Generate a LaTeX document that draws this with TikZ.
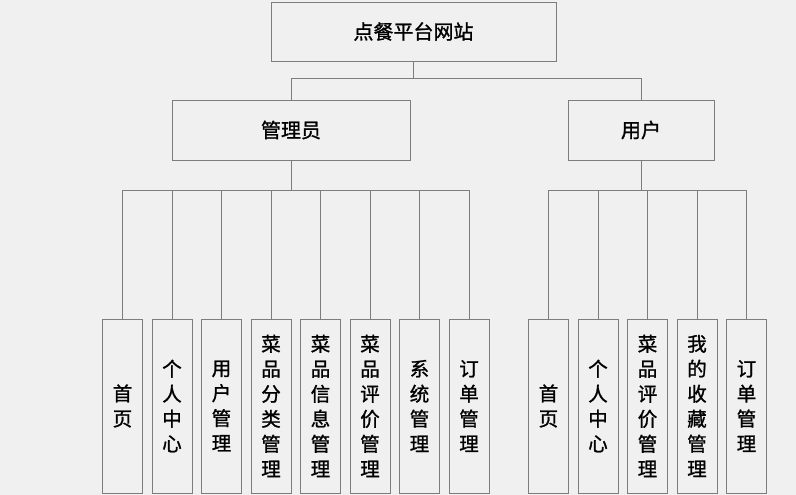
\documentclass[tikz,border=0pt]{standalone}
\usepackage{fontspec}
\setmainfont[FakeBold=1.2]{Noto Sans CJK SC}
\begin{document}
\begin{tikzpicture}[x=1pt,y=-1pt,
  box/.style={draw=linegray, line width=0.9pt, inner sep=0pt},
  topbox/.style={box, minimum width=285pt, minimum height=59pt, font=\fontsize{20}{24}\selectfont},
  midbox/.style={box, minimum height=60pt, font=\fontsize{20}{24}\selectfont},
  leaf/.style={box, minimum width=40pt, minimum height=174pt, align=center, font=\fontsize{19.5}{25}\selectfont},
  conn/.style={draw=linegray, line width=0.9pt}]
\definecolor{linegray}{RGB}{125,125,125}
\definecolor{bggray}{RGB}{240,240,240}
\fill[bggray] (0,0) rectangle (796,495);
\useasboundingbox (0,0) rectangle (796,495);
\node[topbox] (top) at (413.5,31.5) {点餐平台网站};
\node[midbox, minimum width=238pt] (admin) at (291,130) {管理员};
\node[midbox, minimum width=146pt] (user) at (641,130) {用户};
\node[leaf] (a1) at (122.5,406) {首\\页};
\node[leaf] (a2) at (172,406) {个\\人\\中\\心};
\node[leaf] (a3) at (221.5,406) {用\\户\\管\\理};
\node[leaf] (a4) at (271,406) {菜\\品\\分\\类\\管\\理};
\node[leaf] (a5) at (320.5,406) {菜\\品\\信\\息\\管\\理};
\node[leaf] (a6) at (370,406) {菜\\品\\评\\价\\管\\理};
\node[leaf] (a7) at (419.5,406) {系\\统\\管\\理};
\node[leaf] (a8) at (469,406) {订\\单\\管\\理};
\node[leaf] (u1) at (548.5,406) {首\\页};
\node[leaf] (u2) at (598,406) {个\\人\\中\\心};
\node[leaf] (u3) at (647.5,406) {菜\\品\\评\\价\\管\\理};
\node[leaf] (u4) at (697,406) {我\\的\\收\\藏\\管\\理};
\node[leaf] (u5) at (746.5,406) {订\\单\\管\\理};
\draw[conn] (top.south) -- ++(0,17) -| (admin.north);
\draw[conn] (top.south) -- ++(0,17) -| (user.north);
\foreach \n in {a1,a2,a3,a4,a5,a6,a7,a8}
  \draw[conn] (admin.south) -- ++(0,30) -| (\n.north);
\foreach \n in {u1,u2,u3,u4,u5}
  \draw[conn] (user.south) -- ++(0,30) -| (\n.north);
\end{tikzpicture}
\end{document}
